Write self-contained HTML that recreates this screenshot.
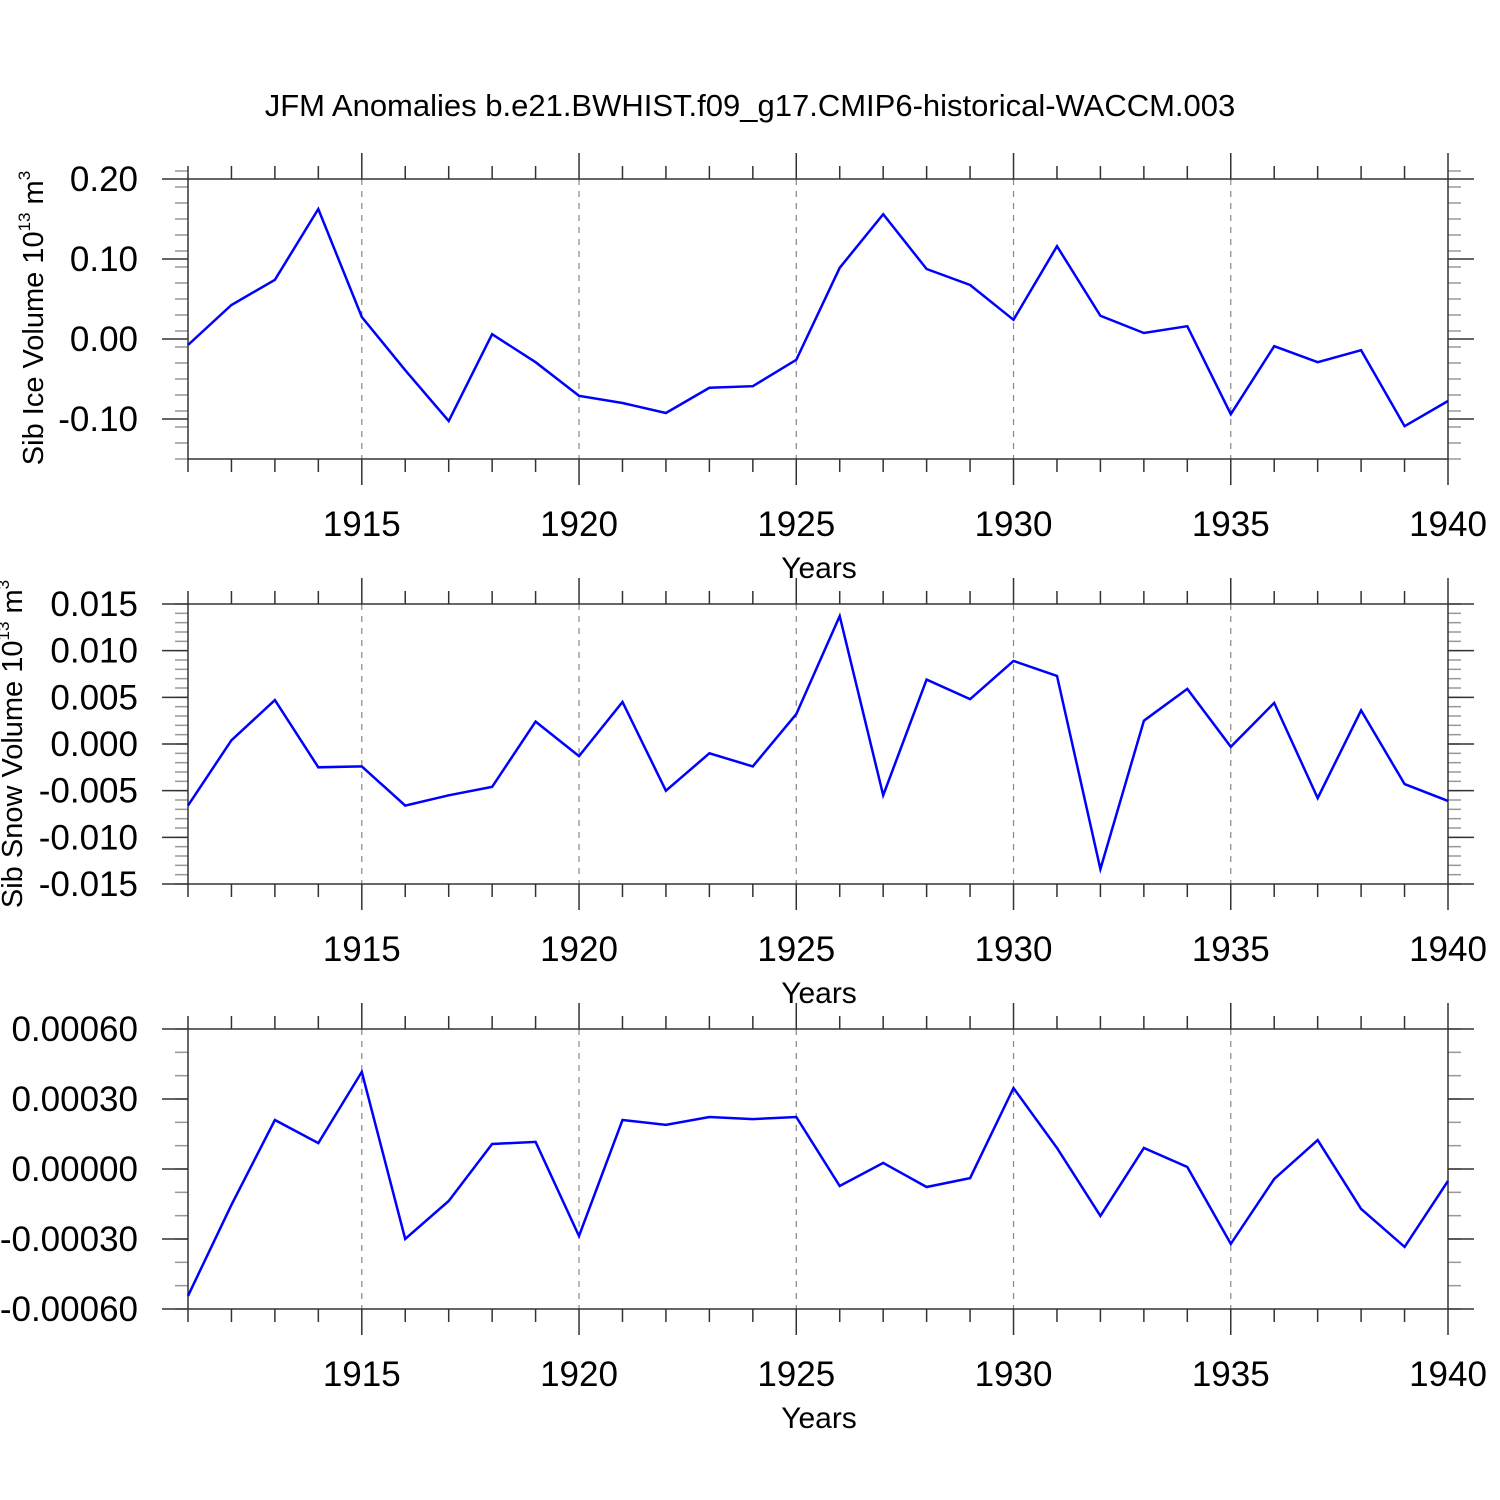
<!DOCTYPE html>
<html><head><meta charset="utf-8"><style>
html,body{margin:0;padding:0;background:#fff}
svg{display:block}
text{font-family:"Liberation Sans",sans-serif;fill:#000}
</style></head><body>
<svg id="chart" width="1500" height="1500" viewBox="0 0 1500 1500" xmlns="http://www.w3.org/2000/svg">
<text x="750" y="116" font-size="31" text-anchor="middle">JFM Anomalies b.e21.BWHIST.f09_g17.CMIP6-historical-WACCM.003</text>
</svg>
<script>
const years = [1911,1912,1913,1914,1915,1916,1917,1918,1919,1920,1921,1922,1923,1924,1925,1926,1927,1928,1929,1930,1931,1932,1933,1934,1935,1936,1937,1938,1939,1940];
const iceVolume = [-0.0075,0.0425,0.074,0.1625,0.0275,-0.039,-0.1025,0.006,-0.029,-0.071,-0.08,-0.0925,-0.061,-0.059,-0.026,0.089,0.156,0.0875,0.0675,0.024,0.116,0.029,0.0075,0.016,-0.094,-0.009,-0.029,-0.014,-0.109,-0.0775];
const snowVolume = [-0.0066,0.0004,0.0047,-0.0025,-0.0024,-0.0066,-0.0055,-0.0046,0.0024,-0.0013,0.0045,-0.0050,-0.0010,-0.0024,0.0032,0.0137,-0.0055,0.0069,0.0048,0.0089,0.0073,-0.0134,0.0025,0.0059,-0.0003,0.0044,-0.0058,0.0036,-0.0043,-0.0061];
const thirdSeries = [-0.000544,-0.000154,0.00021,0.000111,0.000416,-0.0003,-0.000137,0.000107,0.000116,-0.000287,0.00021,0.000189,0.000223,0.000214,0.000223,-0.000073,0.000026,-0.000077,-0.000039,0.000347,0.00009,-0.000201,0.00009,0.0000086,-0.000321,-0.000043,0.000124,-0.000171,-0.000334,-0.000051];
const xTickYears = [1915,1920,1925,1930,1935,1940];
const iceTicks = [0.2,0.1,0,-0.1];
const iceTickLabels = ["0.20","0.10","0.00","-0.10"];
const snowTicks = [0.015,0.01,0.005,0,-0.005,-0.01,-0.015];
const snowTickLabels = ["0.015","0.010","0.005","0.000","-0.005","-0.010","-0.015"];
const thirdTicks = [0.0006,0.0003,0,-0.0003,-0.0006];
const thirdTickLabels = ["0.00060","0.00030","0.00000","-0.00030","-0.00060"];

const NS="http://www.w3.org/2000/svg";
const svg=document.getElementById('chart');
function mk(tag,attrs,parent){const e=document.createElementNS(NS,tag);for(const k in attrs)e.setAttribute(k,attrs[k]);(parent||svg).appendChild(e);return e;}
const X0=188,X1=1448,YR0=1911,YR1=1940;
function xs(yr){return X0+(yr-YR0)/(YR1-YR0)*(X1-X0);}

const panels=[
 {name:'ice',top:179,bot:459,ymin:-0.15,ymax:0.2,minor:0.02,data:iceVolume,ticks:iceTicks,labels:iceTickLabels,title:'Sib Ice Volume 10',titleX:43,titleC:318},
 {name:'snow',top:604,bot:884,ymin:-0.015,ymax:0.015,minor:0.001,data:snowVolume,ticks:snowTicks,labels:snowTickLabels,title:'Sib Snow Volume 10',titleX:22,titleC:744},
 {name:'third',top:1029,bot:1309,ymin:-0.0006,ymax:0.0006,minor:0.0001,data:thirdSeries,ticks:thirdTicks,labels:thirdTickLabels,title:null}
];
panels.forEach(p=>{
 const g=mk('g',{});
 
 
 const ys=v=>p.bot-(v-p.ymin)/(p.ymax-p.ymin)*(p.bot-p.top);
 xTickYears.forEach(yr=>{if(yr<YR1){const l=mk('line',{x1:xs(yr),x2:xs(yr),y1:p.top,y2:p.bot,stroke:'#888','stroke-width':1.2,'stroke-dasharray':'6,6'},g);
  
  }});
 const n=Math.round((p.ymax-p.ymin)/p.minor);
 for(let i=0;i<=n;i++){const v=p.ymin+i*p.minor;const y=ys(v);
  mk('line',{x1:X0-13,x2:X0,y1:y,y2:y,stroke:'#999','stroke-width':1.5},g);
  mk('line',{x1:X1,x2:X1+13,y1:y,y2:y,stroke:'#999','stroke-width':1.5},g);}
 years.forEach(yr=>{const x=xs(yr);const maj=xTickYears.includes(yr);const L=maj?26:13;
  mk('line',{x1:x,x2:x,y1:p.top-L,y2:p.top,stroke:'#333','stroke-width':1.5},g);
  mk('line',{x1:x,x2:x,y1:p.bot,y2:p.bot+L,stroke:'#333','stroke-width':1.5},g);});
 p.ticks.forEach((v,i)=>{const y=ys(v);
  mk('line',{x1:X0-26,x2:X0,y1:y,y2:y,stroke:'#333','stroke-width':1.5},g);
  mk('line',{x1:X1,x2:X1+26,y1:y,y2:y,stroke:'#333','stroke-width':1.5},g);
  const t=mk('text',{x:138,y:y+12,'font-size':35,'text-anchor':'end'},g);t.textContent=p.labels[i];
  
  });
 const r=mk('rect',{x:X0,y:p.top,width:X1-X0,height:p.bot-p.top,fill:'none',stroke:'#333','stroke-width':1.5},g);
 
 
 xTickYears.forEach(yr=>{const t=mk('text',{x:xs(yr),y:p.bot+77,'font-size':35,'text-anchor':'middle'},g);t.textContent=yr;
  
  });
 const xt=mk('text',{x:819,y:p.bot+119,'font-size':30,'text-anchor':'middle'},g);xt.textContent='Years';
 
 
 const pts=p.data.map((v,i)=>xs(years[i]).toFixed(1)+','+ys(v).toFixed(1)).join(' ');
 const pl=mk('polyline',{points:pts,fill:'none',stroke:'#0000ff','stroke-width':2.5,'stroke-linejoin':'miter'},g);
 
 
 if(p.title){
  const t=mk('text',{x:0,y:0,'font-size':29,'text-anchor':'middle',transform:`translate(${p.titleX},${p.titleC}) rotate(-90)`},g);
  t.innerHTML=p.title+'<tspan dy="-13" font-size="17">13</tspan><tspan dy="13"> m</tspan><tspan dy="-13" font-size="17">3</tspan>';
  
  }
});
</script>
</body></html>
